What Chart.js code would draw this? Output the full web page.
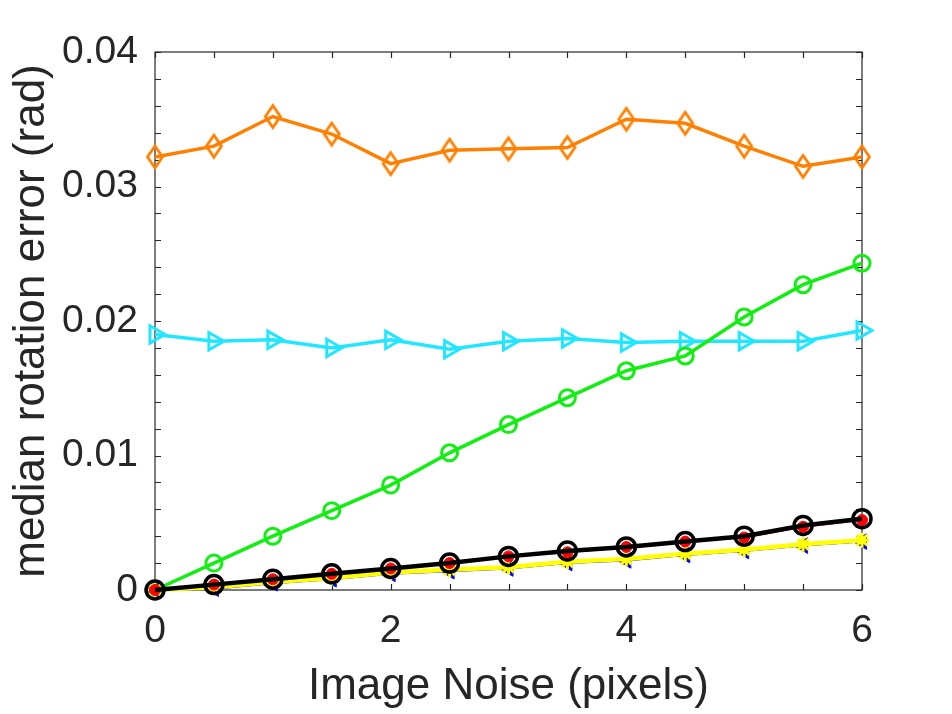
<!DOCTYPE html>
<html>
<head>
<meta charset="utf-8">
<script src="https://cdn.jsdelivr.net/npm/chart.js@4/dist/chart.umd.min.js"></script>
<style>
  html, body { margin: 0; padding: 0; background: #ffffff; }
  #wrap { width: 952px; height: 714px; position: relative; }
</style>
</head>
<body>
<div id="wrap"><canvas id="c" width="952" height="714"></canvas></div>
<script>
// ---- data ----
const noiseLevels = [0, 0.5, 1, 1.5, 2, 2.5, 3, 3.5, 4, 4.5, 5, 5.5, 6];
const orangeSeries = [0.0322, 0.0330, 0.0352, 0.0339, 0.0317, 0.0327, 0.0328, 0.0329, 0.0350, 0.0347, 0.0330, 0.0315, 0.0322];
const cyanSeries   = [0.0190, 0.0185, 0.0186, 0.0180, 0.0186, 0.0179, 0.0185, 0.0187, 0.0184, 0.0185, 0.0185, 0.0185, 0.0193];
const greenSeries  = [0.0000, 0.0020, 0.0040, 0.0059, 0.0078, 0.0102, 0.0123, 0.0143, 0.0163, 0.0174, 0.0203, 0.0227, 0.0243];
const blackSeries  = [0.0000, 0.0004, 0.0008, 0.0012, 0.0016, 0.0020, 0.0025, 0.0029, 0.0032, 0.0036, 0.0040, 0.0048, 0.0053];
const redSeries    = [0.0000, 0.0004, 0.0008, 0.0012, 0.0016, 0.0020, 0.0025, 0.0028, 0.0032, 0.0036, 0.0039, 0.0047, 0.0052];
const yellowSeries = [0.0000, 0.0002, 0.0006, 0.0009, 0.0013, 0.0015, 0.0017, 0.0021, 0.0023, 0.0027, 0.0030, 0.0034, 0.0037];
const blueSeries   = [0.0000, 0.0001, 0.0005, 0.0008, 0.0012, 0.0014, 0.0016, 0.0020, 0.0022, 0.0026, 0.0029, 0.0033, 0.0036];
const xTickLabels = {0: '0', 2: '2', 4: '4', 6: '6'};
const yTickLabels = {0: '0', 1: '0.01', 2: '0.02', 3: '0.03', 4: '0.04'};
const xTitle = 'Image Noise (pixels)';
const yTitle = 'median rotation error (rad)';

function pts(arr) { return noiseLevels.map((x, i) => ({ x: x, y: arr[i] })); }

// tall diamond marker (MATLAB style)
function makeDiamond(color, w, h, lw) {
  const c = document.createElement('canvas');
  c.width = w + lw * 2; c.height = h + lw * 2;
  const g = c.getContext('2d');
  const cx = c.width / 2, cy = c.height / 2;
  g.strokeStyle = color; g.lineWidth = lw; g.lineJoin = 'miter';
  g.beginPath();
  g.moveTo(cx, cy - h / 2); g.lineTo(cx + w / 2, cy); g.lineTo(cx, cy + h / 2); g.lineTo(cx - w / 2, cy);
  g.closePath(); g.stroke();
  return c;
}
const diamond = makeDiamond('#ff8000', 15, 22, 2.8);

const TXT = '#262626';
const FONT = "'Liberation Sans', Arial, Helvetica, sans-serif";

const innerTicks = {
  id: 'innerTicks',
  beforeDatasetsDraw(chart) {
    const { ctx, chartArea: a } = chart;
    const xs = chart.scales.x, ys = chart.scales.y;
    ctx.save();
    ctx.strokeStyle = TXT;
    ctx.lineWidth = 1.2;
    ctx.strokeRect(a.left, a.top, a.right - a.left, a.bottom - a.top);
    const L = 6;
    ctx.beginPath();
    xs.ticks.forEach(t => {
      const px = Math.round(xs.getPixelForValue(t.value)) + 0.5;
      ctx.moveTo(px, a.bottom); ctx.lineTo(px, a.bottom - L);
      ctx.moveTo(px, a.top); ctx.lineTo(px, a.top + L);
    });
    ys.ticks.forEach(t => {
      const py = Math.round(ys.getPixelForValue(t.value)) + 0.5;
      ctx.moveTo(a.left, py); ctx.lineTo(a.left + L, py);
      ctx.moveTo(a.right, py); ctx.lineTo(a.right - L, py);
    });
    ctx.stroke();
    ctx.restore();
  }
};

new Chart(document.getElementById('c'), {
  type: 'line',
  data: {
    datasets: [
      { label: 'black', data: pts(blackSeries), borderColor: '#000000', borderWidth: 4.5,
        pointStyle: 'circle', pointRadius: 9, pointBorderWidth: 3.5, pointBorderColor: '#000000',
        pointBackgroundColor: 'rgba(0,0,0,0)', order: 0 },
      { label: 'red', data: pts(redSeries), borderColor: '#ff0000', borderWidth: 2,
        pointStyle: 'circle', pointRadius: 5.5, pointBorderWidth: 1, pointBorderColor: '#ff0000',
        pointBackgroundColor: '#ff0000', order: 1 },
      { label: 'yellow', data: pts(yellowSeries), borderColor: '#ffff00', borderWidth: 4.5,
        pointStyle: 'star', pointRadius: 7.5, pointBorderWidth: 3, pointBorderColor: '#ffff00',
        pointBackgroundColor: '#ffff00', order: 2 },
      { label: 'blue', data: pts(blueSeries), borderColor: '#0000ff', borderWidth: 2,
        pointStyle: 'triangle', pointRotation: -90, pointRadius: 9, pointBorderWidth: 1,
        pointBorderColor: '#0000ff', pointBackgroundColor: '#0000ff', order: 3 },
      { label: 'green', data: pts(greenSeries), borderColor: '#11ee11', borderWidth: 3.5,
        pointStyle: 'circle', pointRadius: 8, pointBorderWidth: 3, pointBorderColor: '#11ee11',
        pointBackgroundColor: 'rgba(0,0,0,0)', order: 4 },
      { label: 'cyan', data: pts(cyanSeries), borderColor: '#22e6ff', borderWidth: 3.5,
        pointStyle: 'triangle', pointRotation: 90, pointRadius: 10, pointBorderWidth: 3,
        pointBorderColor: '#22e6ff', pointBackgroundColor: 'rgba(0,0,0,0)', order: 5 },
      { label: 'orange', data: pts(orangeSeries), borderColor: '#ff8000', borderWidth: 3.5,
        pointStyle: diamond, pointRadius: 10, order: 6 }
    ]
  },
  options: {
    responsive: false,
    animation: false,
    devicePixelRatio: 1,
    layout: { padding: { left: 0, right: 90, top: 52, bottom: 0 } },
    elements: { line: { tension: 0 } },
    datasets: { line: { clip: false } },
    plugins: { legend: { display: false }, tooltip: { enabled: false } },
    scales: {
      x: {
        type: 'linear', min: 0, max: 6,
        grid: { display: false, drawTicks: false },
        border: { display: false },
        afterFit(s) { s.height = 124; },
        ticks: {
          stepSize: 0.5, autoSkip: false, maxRotation: 0, padding: 18,
          color: TXT, font: { family: FONT, size: 39, lineHeight: 1.2 },
          callback: v => (xTickLabels[v] !== undefined ? xTickLabels[v] : '')
        },
        title: { display: true, text: xTitle, color: TXT,
          font: { family: FONT, size: 44, lineHeight: 1 }, padding: { top: 0, bottom: 5 } }
      },
      y: {
        type: 'linear', min: 0, max: 0.04,
        grid: { display: false, drawTicks: false },
        border: { display: false },
        afterFit(s) { s.width = 155; },
        ticks: {
          stepSize: 0.002, autoSkip: false, padding: 17,
          color: TXT, font: { family: FONT, size: 39, lineHeight: 1.2 },
          callback: v => {
            const k = Math.round(v * 500);
            return (k % 5 === 0) ? yTickLabels[k / 5] : '';
          }
        },
        title: { display: true, text: yTitle, color: TXT,
          font: { family: FONT, size: 44, lineHeight: 1 }, padding: { top: 10, bottom: 0 } }
      }
    }
  },
  plugins: [innerTicks]
});
</script>
</body>
</html>
